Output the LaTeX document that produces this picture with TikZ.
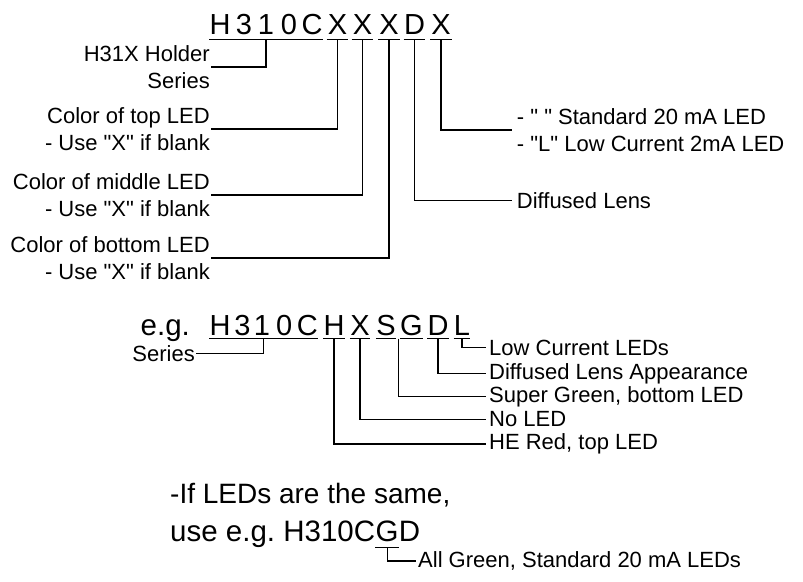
\documentclass[tikz,border=0pt]{standalone}
\usepackage{fontspec}
\newfontfamily\arialfont{Liberation Sans}
\usetikzlibrary{calc}
\tikzset{
    codechar/.style={font=\arialfont\fontsize{29}{35}\selectfont, inner sep=0pt, minimum width=21.5pt, anchor=base},
    bignote/.style={font=\arialfont\fontsize{29.5}{35}\selectfont, inner sep=0pt, anchor=base west},
    leftnote/.style={font=\arialfont\fontsize{22}{27}\selectfont, align=right, inner sep=1pt, anchor=east},
    rightnote/.style={font=\arialfont\fontsize{22}{27}\selectfont, align=left, inner sep=3pt, anchor=west},
    wire/.style={line width=1.1pt}
}
\begin{document}
\begin{tikzpicture}[x=1pt, y=-1pt]
                                \useasboundingbox (0,0) rectangle (803,581);

                                \node[codechar] (tH) at (220,34) {H};
                                \node[codechar] (t3) at (244,34) {3};
                                \node[codechar] (t1) at (266,34) {1};
                                \node[codechar] (t0) at (289,34) {0};
                                \node[codechar] (tC) at (312,34) {C};
                                \node[codechar] (tX1) at (337.5,34) {X};
                                \node[codechar] (tX2) at (362.5,34) {X};
                                \node[codechar] (tX3) at (389,34) {X};
                                \node[codechar] (tD) at (414.5,34) {D};
                                \node[codechar] (tX4) at (441,34) {X};

                                \draw[wire] ($(tH.base west)+(0,5.3)$) -- ($(tC.base east)+(0,5.3)$);
                                \draw[wire] ($(tX1.base west)+(0,5.3)$) -- ($(tX1.base east)+(0,5.3)$);
                                \draw[wire] ($(tX2.base west)+(0,5.3)$) -- ($(tX2.base east)+(0,5.3)$);
                                \draw[wire] ($(tX3.base west)+(0,5.3)$) -- ($(tX3.base east)+(0,5.3)$);
                                \draw[wire] ($(tD.base west)+(0,5.3)$) -- ($(tD.base east)+(0,5.3)$);
                                \draw[wire] ($(tX4.base west)+(0,5.3)$) -- ($(tX4.base east)+(0,5.3)$);

                                \node[leftnote] (holder) at (211,67) {H31X Holder\\Series};
                                \node[leftnote] (topled) at (211,129) {Color of top LED\\- Use "X" if blank};
                                \node[leftnote] (midled) at (211,195) {Color of middle LED\\- Use "X" if blank};
                                \node[leftnote] (botled) at (211,258) {Color of bottom LED\\- Use "X" if blank};
                                \node[rightnote, inner sep=5pt] (ledcurrent) at (511.7,130) {- " " Standard 20 mA LED\\- "L" Low Current 2mA LED};
                                \node[rightnote, inner sep=5pt] (lens) at (511.7,200.7) {Diffused Lens};

                                \draw[wire] ($(tH.base west)!0.5!(tC.base east)+(0,5.3)$) |- (holder.east);
                                \draw[wire] ($(tX1.base)+(0,5.3)$) |- (topled.east);
                                \draw[wire] ($(tX2.base)+(0,5.3)$) |- (midled.east);
                                \draw[wire] ($(tX3.base)+(0,5.3)$) |- (botled.east);
                                \draw[wire] ($(tD.base)+(0,5.3)$) |- (lens.west);
                                \draw[wire] ($(tX4.base)+(0,5.3)$) |- (ledcurrent.west);

                                \node[bignote] (eg) at (140.5,335.5) {e.g.};
                                \node[codechar, minimum width=20pt] (mH) at (220,335.5) {H};
                                \node[codechar, minimum width=20pt] (m3) at (242.5,335.5) {3};
                                \node[codechar, minimum width=20pt] (m1) at (262,335.5) {1};
                                \node[codechar, minimum width=20pt] (m0) at (284.2,335.5) {0};
                                \node[codechar, minimum width=20pt] (mC) at (307.3,335.5) {C};
                                \node[codechar, minimum width=20pt] (mH2) at (334,335.5) {H};
                                \node[codechar, minimum width=20pt] (mX) at (360,335.5) {X};
                                \node[codechar, minimum width=20pt] (mS) at (386,335.5) {S};
                                \node[codechar, minimum width=21pt] (mG) at (411.5,335.5) {G};
                                \node[codechar, minimum width=20pt] (mD) at (438,335.5) {D};
                                \node[codechar, minimum width=15pt] (mL) at (462,335.5) {L};

                                \draw[wire] ($(mH.base west)+(0,3)$) -- ($(mC.base east)+(0,3)$);
                                \draw[wire] ($(mH2.base west)+(0,3)$) -- ($(mH2.base east)+(0,3)$);
                                \draw[wire] ($(mX.base west)+(0,3)$) -- ($(mX.base east)+(0,3)$);
                                \draw[wire] ($(mS.base west)+(0,3)$) -- ($(mS.base east)+(0,3)$);
                                \draw[wire] ($(mG.base west)+(0,3)$) -- ($(mG.base east)+(0,3)$);
                                \draw[wire] ($(mD.base west)+(0,3)$) -- ($(mD.base east)+(0,3)$);
                                \draw[wire] ($(mL.base west)+(0,3)$) -- ($(mL.base east)+(0,3)$);

                                \node[leftnote] (series) at (196,353.3) {Series};
                                \node[rightnote] (lowcur) at (486,347.5) {Low Current LEDs};
                                \node[rightnote] (difflens) at (486,373.5) {Diffused Lens Appearance};
                                \node[rightnote] (supergreen) at (486,396.7) {Super Green, bottom LED};
                                \node[rightnote] (noled) at (486,419.5) {No LED};
                                \node[rightnote] (hered) at (486,444) {HE Red, top LED};

                                \draw[wire] ($(mH.base west)!0.5!(mC.base east)+(0,3)$) |- (series.east);
                                \draw[wire] ($(mL.base)+(0,3)$) |- (lowcur.west);
                                \draw[wire] ($(mD.base)+(0,3)$) |- (difflens.west);
                                \draw[wire] ($(mS.base east)!0.5!(mG.base west)+(0,3)$) |- (supergreen.west);
                                \draw[wire] ($(mX.base)+(0,3)$) |- (noled.west);
                                \draw[wire] ($(mH2.base)+(0,3)$) |- (hered.west);

                                \node[bignote, font=\arialfont\fontsize{28}{34}\selectfont] (same) at (170,503.3) {-If LEDs are the same,};
                                \node[bignote] (useeg) at (170,541.7) {use e.g.\ H310C};
                                \node[bignote] (bG) at (useeg.base east) {G};
                                \node[bignote] (bD) at (bG.base east) {D};
                                \node[rightnote, inner sep=2pt] (allgreen) at (416,561) {All Green, Standard 20 mA LEDs};

                                \draw[wire] ($(bG.base west)+(0,6)$) -- ($(bG.base east)+(0,6)$);
                                \draw[wire] ($(bG.base)+(0,6)$) |- (allgreen.west);
                            \end{tikzpicture}
\end{document}
